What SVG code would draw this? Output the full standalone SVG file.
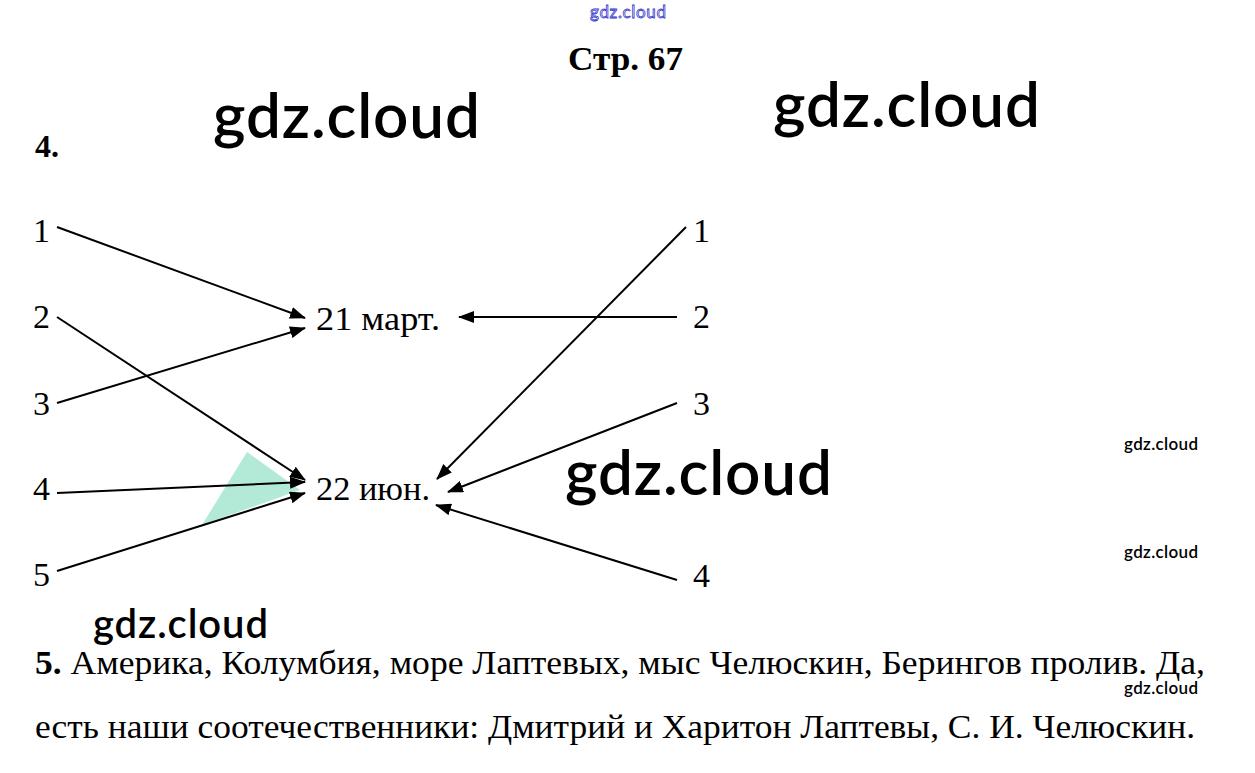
<svg xmlns="http://www.w3.org/2000/svg" width="1255" height="773" viewBox="0 0 1255 773">
<defs>
<marker id="ah2" markerWidth="16" markerHeight="12" refX="15" refY="6" orient="auto" markerUnits="userSpaceOnUse">
<path d="M0,0 L16,6 L0,12 Z" fill="#000"/>
</marker>
<style>
.wm{font-family:Lato,"Open Sans",sans-serif;font-weight:600;fill:#000}
.sr{font-family:"Liberation Serif","Times New Roman",serif;fill:#000}
.num{font-family:"Liberation Serif","Times New Roman",serif;font-size:34px;fill:#000}
.ln{stroke:#000;stroke-width:2;fill:none;marker-end:url(#ah2)}
</style>
</defs>
<rect width="1255" height="773" fill="#fff"/>
<text x="628" y="18" text-anchor="middle" font-family="Lato,sans-serif" font-size="17" fill="#fff" stroke="#3333cc" stroke-width="0.8" textLength="76">gdz.cloud</text>
<text x="568" y="70" class="sr" font-size="33" font-weight="bold" textLength="115" lengthAdjust="spacingAndGlyphs">Стр. 67</text>
<text x="213" y="138" class="wm" font-size="62" textLength="267">gdz.cloud</text>
<text x="773" y="127" class="wm" font-size="62" textLength="267">gdz.cloud</text>
<text x="35" y="157" class="sr" font-size="32" font-weight="bold">4.</text>
<polygon points="247,452 202,525 300,490" fill="#7fdcbc" opacity="0.6"/>
<g id="left-nodes">
<g id="l1"><text x="33" y="242" class="num">1</text></g>
<g id="l2"><text x="33" y="328" class="num">2</text></g>
<g id="l3"><text x="33" y="415" class="num">3</text></g>
<g id="l4"><text x="33" y="500" class="num">4</text></g>
<g id="l5"><text x="33" y="586" class="num">5</text></g>
</g>
<g id="mar21"><text x="316" y="330" class="num" textLength="124" lengthAdjust="spacingAndGlyphs">21 март.</text></g>
<g id="jun22"><text x="316" y="500" class="num" textLength="114" lengthAdjust="spacingAndGlyphs">22 июн.</text></g>
<g id="right-nodes">
<g id="r1"><text x="693" y="242" class="num">1</text></g>
<g id="r2"><text x="693" y="328" class="num">2</text></g>
<g id="r3"><text x="693" y="415" class="num">3</text></g>
<g id="r4"><text x="693" y="587" class="num">4</text></g>
</g>
<g id="connectors">
<line class="ln" x1="57" y1="227" x2="305" y2="318"/>
<line class="ln" x1="57" y1="317" x2="305" y2="480"/>
<line class="ln" x1="57" y1="403" x2="305" y2="328"/>
<line class="ln" x1="57" y1="493" x2="305" y2="482"/>
<line class="ln" x1="57" y1="571" x2="305" y2="493"/>
<line class="ln" x1="686" y1="227" x2="437" y2="479"/>
<line class="ln" x1="677" y1="317" x2="459" y2="317"/>
<line class="ln" x1="677" y1="403" x2="448" y2="492"/>
<line class="ln" x1="677" y1="580" x2="436" y2="505"/>
</g>
<text x="565" y="495" class="wm" font-size="62" textLength="267">gdz.cloud</text>
<text x="93" y="638" class="wm" font-size="40" textLength="175">gdz.cloud</text>
<text x="1124" y="450" class="wm" font-size="17" textLength="74">gdz.cloud</text>
<text x="1124" y="558" class="wm" font-size="17" textLength="74">gdz.cloud</text>
<text x="35" y="674" class="sr" font-size="33" textLength="1170" lengthAdjust="spacingAndGlyphs"><tspan font-weight="bold">5.</tspan> Америка, Колумбия, море Лаптевых, мыс Челюскин, Берингов пролив. Да,</text>
<text x="1124" y="694" class="wm" font-size="17" textLength="74">gdz.cloud</text>
<text x="35" y="738" class="sr" font-size="33" textLength="1160" lengthAdjust="spacingAndGlyphs">есть наши соотечественники: Дмитрий и Харитон Лаптевы, С. И. Челюскин.</text>
</svg>
